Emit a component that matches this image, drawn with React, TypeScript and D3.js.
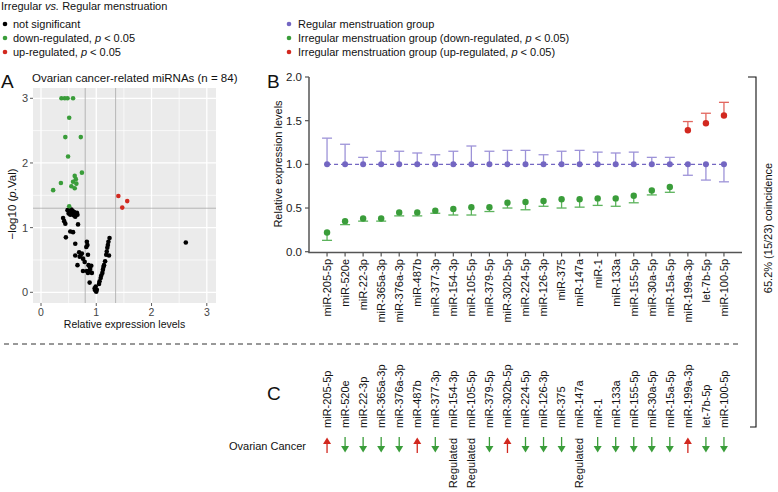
import React from "react";
import * as d3 from "d3";

// ---------- Panel A (volcano) data ----------
const volcanoGreen: [number, number][] = [
  [0.37, 3.0], [0.43, 3.0], [0.48, 3.0], [0.58, 3.0],
  [0.51, 2.7], [0.44, 2.4], [0.72, 2.4], [0.49, 2.1], [0.74, 1.85],
  [0.61, 1.80], [0.63, 1.75], [0.58, 1.71], [0.64, 1.68], [0.55, 1.64],
  [0.61, 1.61], [0.36, 1.69], [0.22, 1.58], [0.51, 1.33],
];
const volcanoRed: [number, number][] = [[1.40, 1.49], [1.56, 1.41], [1.47, 1.31]];
const volcanoBlack: [number, number][] = [
  [0.48, 1.27], [0.51, 1.26], [0.54, 1.25], [0.57, 1.26], [0.60, 1.24], [0.63, 1.22],
  [0.66, 1.20], [0.50, 1.22], [0.53, 1.20], [0.56, 1.21], [0.59, 1.19], [0.62, 1.17],
  [0.65, 1.23], [0.55, 1.28],
  [0.40, 1.15], [0.42, 1.10], [0.44, 1.06], [0.45, 0.85], [0.53, 0.94], [0.58, 0.93],
  [0.67, 1.05], [0.62, 0.75],
  [0.83, 0.78], [0.84, 0.73], [0.82, 0.70],
  [0.69, 0.62], [0.72, 0.58], [0.70, 0.55], [0.62, 0.57], [0.66, 0.42], [0.76, 0.52],
  [0.79, 0.47], [0.76, 0.33], [0.85, 0.58], [0.74, 0.60],
  [0.86, 0.42], [0.88, 0.40], [0.91, 0.41], [0.87, 0.32], [0.92, 0.30], [0.85, 0.30],
  [0.89, 0.36], [0.83, 0.33],
  [0.88, 0.15], [0.97, 0.06], [0.98, 0.03], [1.00, 0.01], [1.01, 0.04], [0.99, 0.09],
  [1.05, 0.13], [1.06, 0.17], [1.08, 0.22], [1.09, 0.26], [1.11, 0.30], [1.12, 0.35],
  [1.13, 0.39], [1.14, 0.42],
  [1.16, 0.48], [1.18, 0.58], [1.19, 0.63], [1.20, 0.69], [1.21, 0.73], [1.22, 0.78],
  [1.24, 0.84], [1.23, 0.57],
  [2.62, 0.77],
];
const volcanoTicks = [0, 1, 2, 3];
const volcanoMinor = [0.5, 1.5, 2.5];
const fcThresholds = [0.8, 1.35];
const pThreshold = 1.3;

// ---------- Panel B data ----------
const categories = [
  "miR-205-5p", "miR-520e", "miR-22-3p", "miR-365a-3p", "miR-376a-3p", "miR-487b",
  "miR-377-3p", "miR-154-3p", "miR-105-5p", "miR-379-5p", "miR-302b-5p", "miR-224-5p",
  "miR-126-3p", "miR-375", "miR-147a", "miR-1", "miR-133a", "miR-155-5p", "miR-30a-5p",
  "miR-15a-5p", "miR-199a-3p", "let-7b-5p", "miR-100-5p",
];
const regularMean = [1, 1, 1, 1, 1, 1, 1, 1, 1, 1, 1, 1, 1, 1, 1, 1, 1, 1, 1, 1, 1, 1, 1];
const regularErrBound = [
  1.30, 1.23, 1.08, 1.15, 1.15, 1.13, 1.11, 1.15, 1.21, 1.15, 1.16, 1.16, 1.11,
  1.15, 1.16, 1.14, 1.13, 1.14, 1.08, 1.08, 0.875, 0.82, 0.80,
];
const irregularMean = [
  0.22, 0.35, 0.38, 0.38, 0.45, 0.45, 0.47, 0.49, 0.51, 0.51, 0.56, 0.57, 0.58,
  0.60, 0.60, 0.61, 0.61, 0.64, 0.70, 0.74, 1.39, 1.47, 1.56,
];
const irregularErrBound = [
  0.13, 0.31, 0.35, 0.35, 0.41, 0.41, 0.44, 0.42, 0.42, 0.46, 0.50, 0.48, 0.52,
  0.50, 0.51, 0.53, 0.52, 0.56, 0.65, 0.68, 1.49, 1.585, 1.71,
];
const bTicks = [0, 0.5, 1.0, 1.5, 2.0];

// ---------- Panel C data ----------
const ovarianCancer = [
  "up", "down", "down", "down", "down", "up", "down", "reg", "reg", "down", "up", "down",
  "down", "down", "reg", "down", "down", "down", "down", "down", "up", "down", "down",
];

const FONT = "'Liberation Sans', Arial, Helvetica, sans-serif";
const PURPLE = "#7366c2";
const PURPLE_L = "#9d93d8";
const GREEN = "#3a9d3a";
const GREEN_L = "#5cb35c";
const RED = "#d2281f";
const RED_L = "#e2675f";

export default function App() {
  // Panel A scales
  const ax = d3.scaleLinear().domain([0, 3]).range([41, 206.8]);
  const ay = d3.scaleLinear().domain([0, 3]).range([292.3, 98.3]);
  const aL = 33, aR = 216, aT = 88, aB = 303;

  // Panel B scales
  const bx = d3.scalePoint<string>().domain(categories).range([309, 742]).padding(1);
  const by = d3.scaleLinear().domain([0, 2]).range([251.7, 77]);

  const purpleLine = d3
    .line<number>()
    .x((_, i) => bx(categories[i]) as number)
    .y((v) => by(v));

  return (
    <svg
      width={778}
      height={492}
      style={{ position: "absolute", left: 0, top: 0, background: "#fff" }}
      fontFamily={FONT}
    >
      {/* ===== Legend A ===== */}
      <text x={1} y={10} fontSize={11} fill="#111">
        Irregular <tspan fontStyle="italic">vs.</tspan> Regular menstruation
      </text>
      <circle cx={5} cy={24} r={2.3} fill="#000" />
      <text x={13} y={28} fontSize={11} fill="#111">not significant</text>
      <circle cx={5} cy={38} r={2.3} fill={GREEN} />
      <text x={13} y={42} fontSize={11} fill="#111">
        down-regulated, <tspan fontStyle="italic">p</tspan> &lt; 0.05
      </text>
      <circle cx={5} cy={52} r={2.3} fill={RED} />
      <text x={13} y={56} fontSize={11} fill="#111">
        up-regulated, <tspan fontStyle="italic">p</tspan> &lt; 0.05
      </text>

      {/* ===== Panel A ===== */}
      <text x={1} y={88} fontSize={19} fill="#111">A</text>
      <text x={32} y={82} fontSize={11.5} fill="#111">
        Ovarian cancer-related miRNAs (n = 84)
      </text>
      <rect x={aL} y={aT} width={aR - aL} height={aB - aT} fill="#ebebeb" />
      {volcanoMinor.map((t) => (
        <g key={"mn" + t}>
          <line x1={ax(t)} x2={ax(t)} y1={aT} y2={aB} stroke="#fff" strokeWidth={0.7} />
          <line x1={aL} x2={aR} y1={ay(t)} y2={ay(t)} stroke="#fff" strokeWidth={0.7} />
        </g>
      ))}
      {volcanoTicks.map((t) => (
        <g key={"mj" + t}>
          <line x1={ax(t)} x2={ax(t)} y1={aT} y2={aB} stroke="#fff" strokeWidth={1.3} />
          <line x1={aL} x2={aR} y1={ay(t)} y2={ay(t)} stroke="#fff" strokeWidth={1.3} />
          <line x1={ax(t)} x2={ax(t)} y1={aB} y2={aB + 3} stroke="#333" strokeWidth={0.8} />
          <line x1={aL - 3} x2={aL} y1={ay(t)} y2={ay(t)} stroke="#333" strokeWidth={0.8} />
          <text x={ax(t)} y={aB + 12.5} fontSize={10.5} fill="#444" textAnchor="middle">{t}</text>
          <text x={aL - 5} y={ay(t) + 4} fontSize={11} fill="#444" textAnchor="end">{t}</text>
        </g>
      ))}
      {fcThresholds.map((t) => (
        <line key={"fc" + t} x1={ax(t)} x2={ax(t)} y1={aT} y2={aB} stroke="#a8a8a8" strokeWidth={0.8} />
      ))}
      <line x1={aL} x2={aR} y1={ay(pThreshold)} y2={ay(pThreshold)} stroke="#a8a8a8" strokeWidth={0.8} />
      {volcanoBlack.map(([x, y], i) => (
        <circle key={"k" + i} cx={ax(x)} cy={ay(y)} r={2.3} fill="#000" />
      ))}
      {volcanoGreen.map(([x, y], i) => (
        <circle key={"g" + i} cx={ax(x)} cy={ay(y)} r={2.3} fill={GREEN} />
      ))}
      {volcanoRed.map(([x, y], i) => (
        <circle key={"r" + i} cx={ax(x)} cy={ay(y)} r={2.3} fill={RED} />
      ))}
      <text x={124.5} y={328} fontSize={10.5} fill="#111" textAnchor="middle">
        Relative expression levels
      </text>
      <text
        transform={`translate(16, 204) rotate(-90)`}
        fontSize={11.5}
        fill="#111"
        textAnchor="middle"
      >
        −log10 (<tspan fontStyle="italic">p</tspan>.Val)
      </text>

      {/* ===== Legend B ===== */}
      <circle cx={289} cy={24} r={2.3} fill={PURPLE} />
      <text x={298} y={28} fontSize={11} fill="#111">Regular menstruation group</text>
      <circle cx={289} cy={38} r={2.3} fill={GREEN} />
      <text x={298} y={42} fontSize={11} fill="#111">
        Irregular menstruation group (down-regulated, <tspan fontStyle="italic">p</tspan> &lt; 0.05)
      </text>
      <circle cx={289} cy={52} r={2.3} fill={RED} />
      <text x={298} y={56} fontSize={11} fill="#111">
        Irregular menstruation group (up-regulated, <tspan fontStyle="italic">p</tspan> &lt; 0.05)
      </text>

      {/* ===== Panel B ===== */}
      <text x={267} y={88} fontSize={19} fill="#111">B</text>
      <line x1={309} x2={309} y1={by(2)} y2={252.5} stroke="#555" strokeWidth={1.5} />
      <line x1={308.3} x2={742} y1={252.5} y2={252.5} stroke="#555" strokeWidth={1.5} />
      {bTicks.map((t) => (
        <g key={"bt" + t}>
          <line x1={305} x2={309} y1={by(t)} y2={by(t)} stroke="#555" strokeWidth={1.2} />
          <text x={302} y={by(t) + 4} fontSize={11.5} fill="#222" textAnchor="end">
            {t.toFixed(1)}
          </text>
        </g>
      ))}
      <text
        transform={`translate(282, 164) rotate(-90)`}
        fontSize={11}
        fill="#111"
        textAnchor="middle"
      >
        Relative expression levels
      </text>
      {categories.map((c) => {
        const x = bx(c) as number;
        return (
          <g key={"bx" + c}>
            <line x1={x} x2={x} y1={252.5} y2={256.5} stroke="#555" strokeWidth={1.2} />
            <text
              transform={`translate(${x}, 259) rotate(-90)`}
              dy="0.35em"
              fontSize={11}
              fill="#111"
              textAnchor="end"
            >
              {c}
            </text>
          </g>
        );
      })}
      {/* regular error bars */}
      {categories.map((c, i) => {
        const x = bx(c) as number;
        return (
          <g key={"re" + c} stroke={PURPLE_L} strokeWidth={1.3}>
            <line x1={x} x2={x} y1={by(regularMean[i])} y2={by(regularErrBound[i])} />
            <line x1={x - 5} x2={x + 5} y1={by(regularErrBound[i])} y2={by(regularErrBound[i])} />
          </g>
        );
      })}
      <path
        d={purpleLine(regularMean) || ""}
        fill="none"
        stroke={PURPLE}
        strokeWidth={1.1}
        strokeDasharray="4,3"
      />
      {categories.map((c, i) => (
        <circle key={"rp" + c} cx={bx(c) as number} cy={by(regularMean[i])} r={3} fill={PURPLE} />
      ))}
      {/* irregular */}
      {categories.map((c, i) => {
        const x = bx(c) as number;
        const up = irregularErrBound[i] > irregularMean[i];
        const col = up ? RED : GREEN;
        const colL = up ? RED_L : GREEN_L;
        return (
          <g key={"ir" + c}>
            <line x1={x} x2={x} y1={by(irregularMean[i])} y2={by(irregularErrBound[i])} stroke={colL} strokeWidth={1.3} />
            <line x1={x - 5} x2={x + 5} y1={by(irregularErrBound[i])} y2={by(irregularErrBound[i])} stroke={colL} strokeWidth={1.3} />
            <circle cx={x} cy={by(irregularMean[i])} r={3.2} fill={col} />
          </g>
        );
      })}

      {/* ===== Bracket ===== */}
      <path d="M748,77 H756 V427 H750" fill="none" stroke="#111" strokeWidth={1.1} />
      <text
        transform={`translate(768, 228) rotate(-90)`}
        dy="0.35em"
        fontSize={11}
        fill="#111"
        textAnchor="middle"
      >
        65.2% (15/23) coincidence
      </text>

      {/* ===== Separator ===== */}
      <line x1={4} x2={742} y1={344} y2={344} stroke="#333" strokeWidth={1} strokeDasharray="5,4" />

      {/* ===== Panel C ===== */}
      <text x={267} y={400} fontSize={19} fill="#111">C</text>
      {categories.map((c) => {
        const x = bx(c) as number;
        return (
          <text
            key={"cl" + c}
            transform={`translate(${x}, 428) rotate(-90)`}
            dy="0.35em"
            fontSize={11}
            fill="#111"
            textAnchor="start"
          >
            {c}
          </text>
        );
      })}
      <text x={306} y={450} fontSize={11} fill="#111" textAnchor="end">Ovarian Cancer</text>
      {categories.map((c, i) => {
        const x = bx(c) as number;
        const s = ovarianCancer[i];
        if (s === "reg") {
          return (
            <text
              key={"oc" + c}
              transform={`translate(${x}, 438) rotate(-90)`}
              dy="0.35em"
              fontSize={11}
              fill="#111"
              textAnchor="end"
            >
              Regulated
            </text>
          );
        }
        if (s === "up") {
          return (
            <g key={"oc" + c} fill={RED} stroke={RED}>
              <line x1={x} x2={x} y1={443} y2={453} strokeWidth={1.3} />
              <path d={`M${x - 4},444 L${x + 4},444 L${x},437.5 Z`} stroke="none" />
            </g>
          );
        }
        return (
          <g key={"oc" + c} fill={GREEN} stroke={GREEN}>
            <line x1={x} x2={x} y1={437} y2={447} strokeWidth={1.3} />
            <path d={`M${x - 4},446 L${x + 4},446 L${x},452.5 Z`} stroke="none" />
          </g>
        );
      })}
    </svg>
  );
}
